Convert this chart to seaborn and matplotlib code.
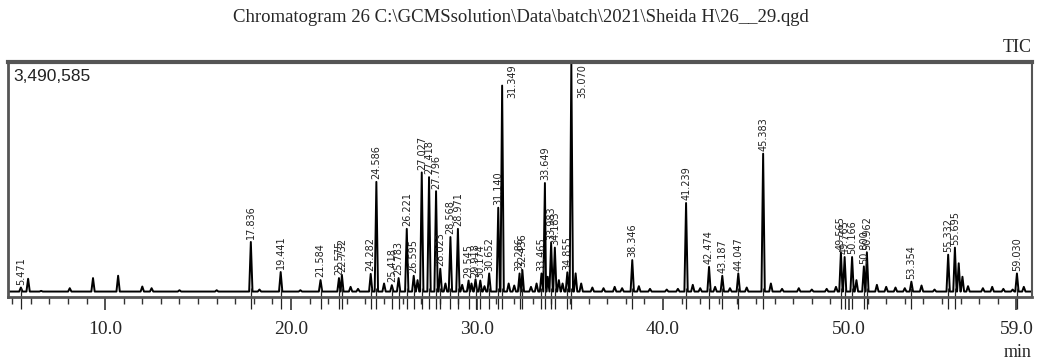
import matplotlib
matplotlib.use("Agg")
import matplotlib.pyplot as plt
import numpy as np
import pandas as pd
import seaborn as sns

# labelled peaks: retention time (min) and apex intensity (counts)
peak_rt = [5.471, 17.836, 19.441, 21.584, 22.575, 22.732, 24.282, 24.586,
           25.418, 25.783, 26.221, 26.595, 27.027, 27.418, 27.796, 28.023,
           28.568, 28.971, 29.545, 29.918, 30.174, 30.652, 31.140, 31.349,
           32.286, 32.436, 33.465, 33.649, 33.983, 34.183, 34.855, 35.070,
           38.346, 41.239, 42.474, 43.187, 44.047, 45.383, 49.565, 49.765,
           50.166, 50.800, 50.962, 53.354, 55.332, 55.695, 59.030]
peak_height = [140000, 817000, 370000, 251000, 280000, 328000, 342000, 1710000,
               175000, 280000, 1012000, 314000, 1850000, 1780000, 1571000, 419000,
               890000, 1012000, 244000, 262000, 244000, 349000, 1326000, 3141000,
               349000, 401000, 349000, 1693000, 803000, 733000, 366000, 3490585,
               548000, 1396000, 447000, 314000, 349000, 2129000, 663000, 593000,
               593000, 454000, 663000, 227000, 628000, 733000, 349000]

# unlabelled small bumps on the baseline
bump_rt = [5.86, 6.56, 8.1, 9.35, 10.7, 12.0, 12.5, 14.0, 16.0, 18.3, 20.5,
           23.2, 23.6, 25.0, 26.8, 28.3, 29.2, 29.7, 30.4, 31.7, 32.0, 32.9,
           33.2, 33.8, 34.4, 34.6, 35.3, 35.6, 36.2, 36.8, 37.4, 37.8, 38.7,
           39.3, 40.2, 40.8, 41.6, 42.0, 42.8, 43.6, 44.5, 45.8, 46.4, 47.3,
           48.0, 48.8, 49.3, 50.4, 51.5, 52.0, 52.5, 53.0, 53.9, 54.6, 55.9,
           56.1, 56.4, 57.2, 57.7, 58.3, 58.8, 59.4]
bump_height = [270000, 90000, 130000, 280000, 315000, 155000, 130000, 100000,
               100000, 110000, 100000, 150000, 120000, 200000, 250000, 200000,
               180000, 200000, 160000, 200000, 170000, 150000, 200000, 300000,
               250000, 200000, 350000, 200000, 140000, 130000, 150000, 130000,
               160000, 120000, 110000, 120000, 180000, 130000, 150000, 130000,
               140000, 200000, 120000, 130000, 110000, 120000, 150000, 250000,
               180000, 150000, 140000, 130000, 170000, 110000, 500000, 300000,
               160000, 130000, 150000, 120000, 110000, 150000]

baseline = 80000
y_max = 3490585
x_ticks = [10, 20, 30, 40, 50, 59]
x_ticklabels = ["10.0", "20.0", "30.0", "40.0", "50.0", "59.0"]
title = "Chromatogram 26 C:\\GCMSsolution\\Data\\batch\\2021\\Sheida H\\26__29.qgd"

# piecewise trace: every peak rises from the baseline to its apex and back
half_w = 0.09
rows = [(4.78, baseline), (59.84, baseline)]
for rt, h in zip(peak_rt + bump_rt, peak_height + bump_height):
    rows += [(rt - half_w, baseline), (rt, h), (rt + half_w, baseline)]
trace = pd.DataFrame(rows, columns=["time", "intensity"]).sort_values("time")

sns.set_style("white")
fig = plt.figure(figsize=(10.42, 3.63), dpi=100)
ax = fig.add_axes([0.0077, 0.182, 0.9827, 0.647])

sns.lineplot(data=trace, x="time", y="intensity", ax=ax, color="black",
             lw=1.4, estimator=None, sort=False)

ax.set_xlim(4.78, 59.84)
ax.set_ylim(0, y_max)
ax.set_xlabel("")
ax.set_ylabel("")
ax.set_yticks([])
ax.set_xticks(x_ticks)
ax.set_xticklabels(x_ticklabels, family="Liberation Serif", fontsize=14)
ax.set_xticks(np.arange(5, 60), minor=True)
ax.tick_params(axis="x", which="major", direction="out", length=9, width=1.2,
               pad=8, bottom=True, color="#333333")
ax.tick_params(axis="x", which="minor", direction="out", length=5, width=1,
               bottom=True, color="#333333")

for side, lw in [("top", 3), ("left", 2), ("right", 1.5), ("bottom", 2)]:
    ax.spines[side].set_color("#555555")
    ax.spines[side].set_linewidth(lw)

# peak markers crossing the axis
ax.vlines(peak_rt, -0.05, 0.04, transform=ax.get_xaxis_transform(),
          color="#222222", lw=0.9, clip_on=False)

for rt, h in zip(peak_rt, peak_height):
    label = f"{rt:.3f}"
    if h > 0.8 * y_max:
        ax.text(rt + 0.3, y_max * 0.99, label, rotation=90, ha="left", va="top",
                fontsize=7, color="#222222", family="DejaVu Sans")
    else:
        ax.text(rt, h + 40000, label, rotation=90, ha="center", va="bottom",
                fontsize=7, color="#222222", family="DejaVu Sans")

ax.text(0.005, 0.97, "3,490,585", transform=ax.transAxes, ha="left", va="top",
        fontsize=12.5, family="Liberation Sans", color="#222222")
fig.text(0.5, 0.953, title, ha="center", va="center", fontsize=13.5,
         family="Liberation Serif")
fig.text(0.99, 0.87, "TIC", ha="right", va="center", fontsize=13,
         family="Liberation Serif")
fig.text(0.99, 0.03, "min", ha="right", va="center", fontsize=13,
         family="Liberation Serif")

fig.savefig("out.png", dpi=100)
